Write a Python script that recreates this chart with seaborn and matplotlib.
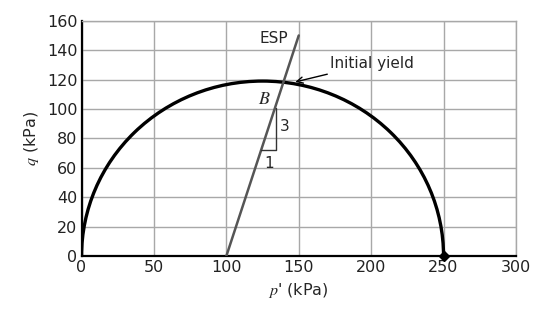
import numpy as np
import pandas as pd
import matplotlib
matplotlib.use("Agg")
import matplotlib.pyplot as plt
from matplotlib.patches import Arc
import seaborn as sns

sns.set_theme(style="whitegrid")
plt.rcParams['font.family'] = ['DejaVu Sans']
plt.rcParams['mathtext.fontset'] = 'stix'

# yield surface (ellipse on p' axis)
p0 = 250          # kPa, right end of the yield surface
q_peak = 119      # kPa, top of the yield surface

# effective stress path
esp_p = [100, 150]
esp_q = [0, 150]

# slope triangle 1:3
tri_p = [124, 134, 134]
tri_q = [72, 72, 101]

x_ticks = [0, 50, 100, 150, 200, 250, 300]
y_ticks = [0, 20, 40, 60, 80, 100, 120, 140, 160]

fig = plt.figure(figsize=(5.33, 3.10), dpi=100)
ax = fig.add_axes([0.153, 0.174, 0.815, 0.759])

grid_c = '#a8a8a8'
ax.grid(True, color=grid_c, lw=1.0)
ax.set_xlim(0, 300)
ax.set_ylim(0, 160)
ax.set_xticks(x_ticks)
ax.set_yticks(y_ticks)
ax.tick_params(length=0, labelsize=11.5, colors='#222222', pad=3)

#Yield surface
ax.add_patch(Arc((p0 / 2, 0), p0, 2 * q_peak, theta1=0, theta2=180,
                 color='black', lw=2.4, zorder=3))
ax.plot([p0], [0], marker='D', color='black', ms=5, zorder=4, clip_on=False)

#ESP line
df = pd.DataFrame({'p': esp_p, 'q': esp_q})
sns.lineplot(data=df, x='p', y='q', ax=ax, color='#555555', lw=1.8, zorder=3)
ax.plot(tri_p, tri_q, color='#333333', lw=1.0, zorder=3)

ax.text(143, 148, 'ESP', ha='right', va='center', fontsize=11)
ax.text(126.5, 106.5, '$B$', ha='center', va='center', fontsize=13)
ax.text(137, 88, '3', ha='left', va='center', fontsize=11)
ax.text(129.5, 63, '1', ha='center', va='center', fontsize=11)
ax.annotate('Initial yield', xy=(147.6, 118.4), xytext=(171.5, 131),
            ha='left', va='center', fontsize=11,
            arrowprops=dict(arrowstyle='->', color='black', lw=1.0,
                            mutation_scale=11, shrinkA=0, shrinkB=0))

for s in ['left', 'bottom']:
    ax.spines[s].set_color('black')
    ax.spines[s].set_linewidth(1.6)
for s in ['top', 'right']:
    ax.spines[s].set_color(grid_c)
    ax.spines[s].set_linewidth(1.0)

ax.set_xlabel("$p$' (kPa)", fontsize=11.5, labelpad=4)
ax.set_ylabel('$q$ (kPa)', fontsize=11.5, labelpad=4)

fig.savefig('out.png', dpi=100, facecolor='white')
